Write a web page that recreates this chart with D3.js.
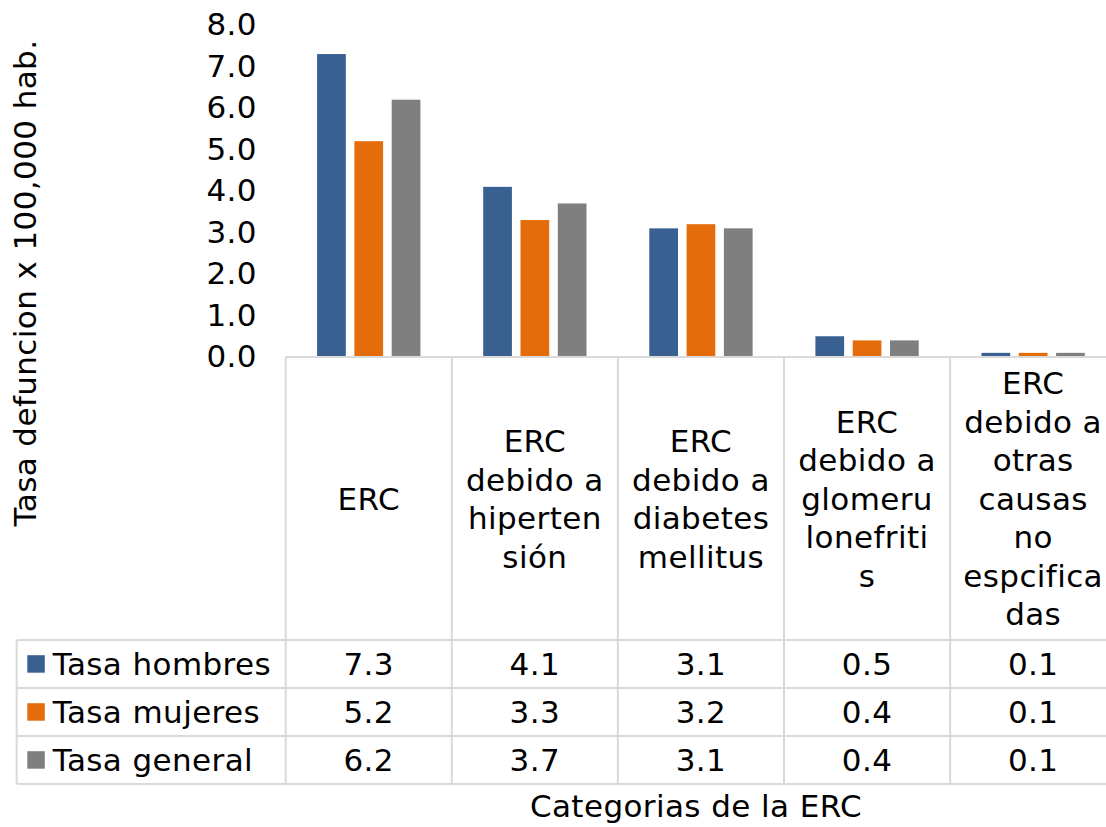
<!DOCTYPE html>
<html>
<head>
<meta charset="utf-8">
<script src="https://cdn.jsdelivr.net/npm/d3@7"></script>
<style>
  body { margin: 0; background: #fff; }
  svg { display: block; font-family: "DejaVu Sans", Verdana, sans-serif; letter-spacing: 0.4px; }
</style>
</head>
<body>
<svg id="container" width="1106" height="827"></svg>
<script>
// data
const categories = ["ERC", "ERC debido a hipertensión", "ERC debido a diabetes mellitus",
    "ERC debido a glomerulonefritis", "ERC debido a otras causas no espcificadas"];
const categoryLines = [
    ["ERC"],
    ["ERC", "debido a", "hiperten", "sión"],
    ["ERC", "debido a", "diabetes", "mellitus"],
    ["ERC", "debido a", "glomeru", "lonefriti", "s"],
    ["ERC", "debido a", "otras", "causas", "no", "espcifica", "das"]
];
const seriesNames = ["Tasa hombres", "Tasa mujeres", "Tasa general"];
const tasaHombres = [7.3, 4.1, 3.1, 0.5, 0.1];
const tasaMujeres = [5.2, 3.3, 3.2, 0.4, 0.1];
const tasaGeneral = [6.2, 3.7, 3.1, 0.4, 0.1];
const yTicks = [0, 1, 2, 3, 4, 5, 6, 7, 8];
const colors = ["#386192", "#e46c0a", "#7f7f7f"];

const seriesValues = [tasaHombres, tasaMujeres, tasaGeneral];

const svg = d3.select('#container');
const fs = 31;
const lineColor = "#d9d9d9";

const plotLeft = 285.7, colW = 166.1;
const yTop = 25, yBase = 357;
const tableTop = yBase, catBottom = 640, rowH = 48;
const legendLeft = 16.7;

const x0 = d3.scaleBand().domain(categories)
    .range([plotLeft, plotLeft + colW * categories.length]);
const x1 = d3.scaleBand().domain(seriesNames)
    .range([0, 3 * 37.3]).paddingInner(0.23).paddingOuter(0.115);
const y = d3.scaleLinear().domain([0, 8]).range([yBase, yTop]);

// y axis
const yAxis = svg.append('g')
    .attr('transform', 'translate(257,0)')
    .call(d3.axisLeft(y).tickValues(yTicks).tickFormat(d3.format(".1f")).tickSize(0).tickPadding(0));
yAxis.select('.domain').remove();
yAxis.selectAll('text').attr('font-size', fs).attr('font-family', '"DejaVu Sans", Verdana, sans-serif').attr('fill', '#000');

// bars
categories.forEach((c, ci) => {
    const gx = x0(c) + x0.bandwidth() / 2 - x1.range()[1] / 2;
    seriesNames.forEach((s, si) => {
        const v = seriesValues[si][ci];
        svg.append('rect')
            .attr('x', gx + x1(s))
            .attr('y', y(v))
            .attr('width', x1.bandwidth())
            .attr('height', y(0) - y(v))
            .attr('fill', colors[si]);
    });
});

// data table grid
const grid = svg.append('g').attr('stroke', lineColor).attr('stroke-width', 2).attr('fill', 'none');
const tableRight = x0.range()[1];
const tableBottom = catBottom + rowH * seriesNames.length;
grid.append('line').attr('x1', plotLeft).attr('x2', tableRight).attr('y1', tableTop).attr('y2', tableTop);
for (let r = 0; r <= seriesNames.length; r++) {
    const yy = catBottom + r * rowH;
    grid.append('line').attr('x1', legendLeft).attr('x2', tableRight).attr('y1', yy).attr('y2', yy);
}
grid.append('line').attr('x1', legendLeft).attr('x2', legendLeft).attr('y1', catBottom).attr('y2', tableBottom);
for (let i = 0; i <= categories.length; i++) {
    const xx = plotLeft + i * colW;
    grid.append('line').attr('x1', xx).attr('x2', xx).attr('y1', tableTop).attr('y2', tableBottom);
}

// category labels
const lh = 38.5;
const catMid = (tableTop + catBottom) / 2;
categories.forEach((c, ci) => {
    const lines = categoryLines[ci];
    const cx = x0(c) + x0.bandwidth() / 2;
    const first = catMid - (lines.length - 1) / 2 * lh + 0.365 * fs;
    const t = svg.append('text').attr('text-anchor', 'middle').attr('font-size', fs).attr('fill', '#000');
    lines.forEach((l, li) => {
        t.append('tspan').attr('x', cx).attr('y', first + li * lh).text(l);
    });
});

// legend keys + values
const fmt = d3.format(".1f");
seriesNames.forEach((s, si) => {
    const mid = catBottom + si * rowH + rowH / 2;
    svg.append('rect')
        .attr('x', 27.3).attr('y', mid - 8.8)
        .attr('width', 17.5).attr('height', 17.5)
        .attr('fill', colors[si]);
    svg.append('text')
        .attr('x', 52.7).attr('y', mid + 0.365 * fs)
        .attr('font-size', fs).attr('fill', '#000')
        .text(s);
    categories.forEach((c, ci) => {
        svg.append('text')
            .attr('x', x0(c) + x0.bandwidth() / 2)
            .attr('y', mid + 0.365 * fs)
            .attr('text-anchor', 'middle')
            .attr('font-size', fs).attr('fill', '#000')
            .text(fmt(seriesValues[si][ci]));
    });
});

// axis titles
svg.append('text')
    .attr('transform', 'translate(36,283) rotate(-90)')
    .attr('text-anchor', 'middle')
    .attr('font-size', fs).attr('fill', '#000')
    .text("Tasa defuncion x 100,000 hab.");

svg.append('text')
    .attr('x', 696).attr('y', 817)
    .attr('text-anchor', 'middle')
    .attr('font-size', fs).attr('fill', '#000')
    .text("Categorias de la ERC");
</script>
</body>
</html>
